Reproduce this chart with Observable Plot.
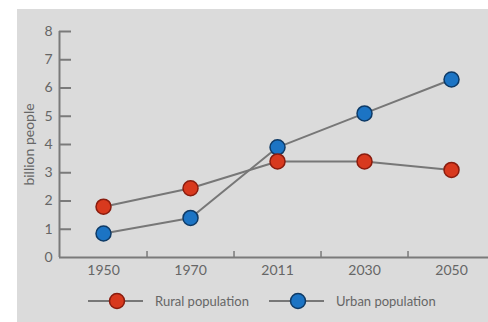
<!DOCTYPE html>
<html>
<head>
<meta charset="utf-8">
<script src="https://cdn.jsdelivr.net/npm/d3@7"></script>
<script src="https://cdn.jsdelivr.net/npm/@observablehq/plot@0.6"></script>
<style>
  html, body { margin: 0; padding: 0; background: #ffffff; }
  #panel { position: absolute; left: 17px; top: 9px; width: 471px; height: 313px; background: #dbdbdb; font-family: Lato, "Open Sans", sans-serif; color: #666; }
  #legend { display: flex; align-items: center; height: 27px; padding-left: 71px; font-size: 13px; }
  .item { display: flex; align-items: center; width: 181px; }
  .item span { margin-left: 12px; }
</style>
</head>
<body>
<div id="panel"><div id="chart"></div><div id="legend"></div></div>
<script>
const years = ["1950", "1970", "2011", "2030", "2050"];
const rural = [1.8, 2.45, 3.4, 3.4, 3.1];
const urban = [0.85, 1.4, 3.9, 5.1, 6.3];
const yTicks = [0, 1, 2, 3, 4, 5, 6, 7, 8];
const seriesNames = ["Rural population", "Urban population"];
const fills = ["#d8391e", "#1c74c4"];
const strokes = ["#8a1c0e", "#0e3a66"];

const xMin = -0.506, xMax = 4.425;
const idx = years.map((d, i) => i);
const mids = idx.slice(0, -1).map(i => i + 0.5);
const ruralData = idx.map(i => ({x: i, y: rural[i]}));
const urbanData = idx.map(i => ({x: i, y: urban[i]}));
const axisColor = "#7a7a7a";
const lineColor = "#777777";

const chart = Plot.plot({
  width: 471,
  height: 278,
  marginLeft: 42,
  marginRight: 0,
  marginTop: 22,
  marginBottom: 30,
  style: {background: "transparent", fontFamily: "Lato, 'Open Sans', sans-serif", fontSize: "14px", color: "#666"},
  x: {domain: [xMin, xMax]},
  y: {domain: [0, 8]},
  marks: [
    Plot.ruleY([0], {stroke: axisColor, strokeWidth: 2}),
    Plot.ruleX([xMin], {y1: 0, y2: 8, stroke: axisColor, strokeWidth: 2}),
    Plot.ruleY(yTicks.filter(d => d > 0), {y: d => d, x1: xMin, x2: xMin + 0.138, stroke: axisColor, strokeWidth: 2}),
    Plot.ruleX(mids, {x: d => d, y1: 0, y2: 0.21, stroke: axisColor, strokeWidth: 1.5}),
    Plot.axisY(yTicks, {tickSize: 0, tickPadding: 7, label: "billion people", labelAnchor: "center", labelArrow: "none", labelOffset: 35, fontSize: 14}),
    Plot.axisX(idx, {tickSize: 0, tickPadding: 8, tickFormat: i => years[i], label: null, fontSize: 14}),
    Plot.line(ruralData, {x: "x", y: "y", stroke: lineColor, strokeWidth: 2}),
    Plot.line(urbanData, {x: "x", y: "y", stroke: lineColor, strokeWidth: 2}),
    Plot.dot(urbanData, {x: "x", y: "y", r: 7.5, fill: fills[1], stroke: strokes[1], strokeWidth: 1.5}),
    Plot.dot(ruralData, {x: "x", y: "y", r: 7.5, fill: fills[0], stroke: strokes[0], strokeWidth: 1.5})
  ]
});
document.getElementById("chart").appendChild(chart);

const legend = d3.select("#legend");
seriesNames.forEach((name, i) => {
  const item = legend.append("div").attr("class", "item");
  const svg = item.append("svg").attr("width", 55).attr("height", 20);
  svg.append("line").attr("x1", 0).attr("x2", 55).attr("y1", 10).attr("y2", 10).attr("stroke", lineColor).attr("stroke-width", 2);
  svg.append("circle").attr("cx", 29).attr("cy", 10).attr("r", 7.5).attr("fill", fills[i]).attr("stroke", strokes[i]).attr("stroke-width", 1.5);
  item.append("span").text(name);
});
</script>
</body>
</html>
